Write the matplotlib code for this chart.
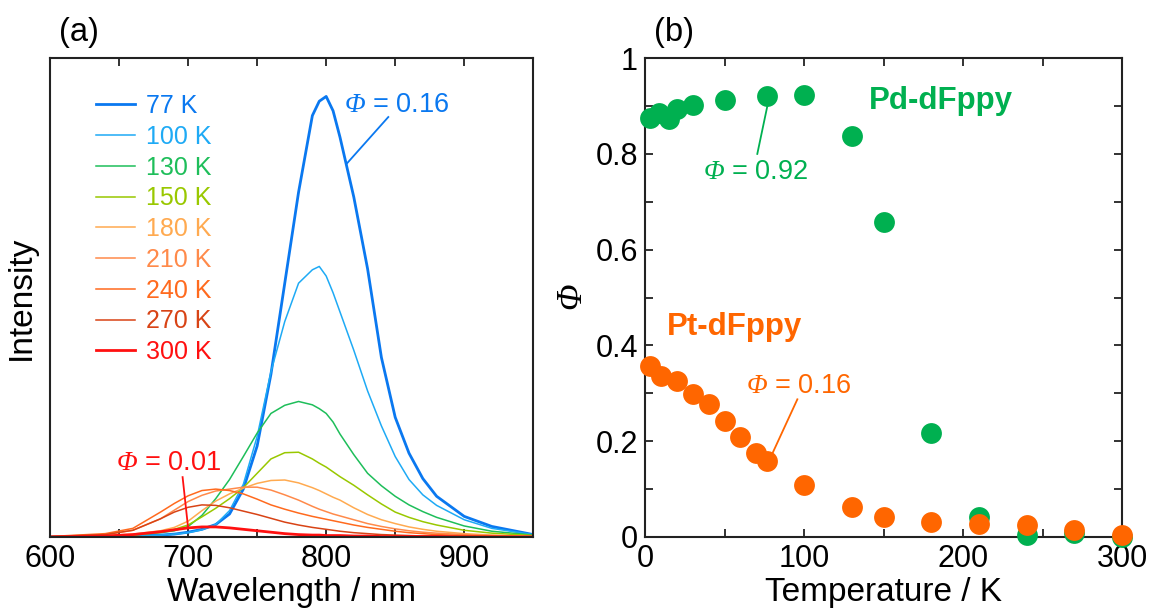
import numpy as np
import matplotlib
matplotlib.use('Agg')
import matplotlib.pyplot as plt
from matplotlib.ticker import MultipleLocator, FuncFormatter

plt.rcParams['font.family'] = ['Liberation Sans', 'DejaVu Sans']
plt.rcParams['mathtext.fontset'] = 'custom'
plt.rcParams['mathtext.rm'] = 'Liberation Serif:italic'
plt.rcParams['mathtext.it'] = 'Liberation Serif:italic'

# ---- (a) emission spectra, intensity (arb. units) ----
wavelength = [600, 640, 660, 680, 690, 700, 710, 720, 730, 740, 750, 760, 770, 780,
              790, 795, 800, 805, 810, 820, 830, 840, 850, 860, 870, 880, 900, 920, 950]
temps = ['77 K', '100 K', '130 K', '150 K', '180 K', '210 K', '240 K', '270 K', '300 K']
spec_77 = [0, 0.001, 0.002, 0.004, 0.006, 0.010, 0.016, 0.026, 0.048, 0.10, 0.19, 0.34, 0.53, 0.72,
           0.88, 0.91, 0.92, 0.89, 0.835, 0.71, 0.56, 0.375, 0.25, 0.175, 0.122, 0.085, 0.043, 0.022, 0.005]
spec_100 = [0, 0.001, 0.002, 0.004, 0.006, 0.009, 0.015, 0.026, 0.055, 0.11, 0.21, 0.345, 0.45, 0.53,
            0.558, 0.565, 0.545, 0.51, 0.47, 0.39, 0.305, 0.232, 0.168, 0.12, 0.088, 0.066, 0.036, 0.018, 0.005]
spec_130 = [0, 0.002, 0.004, 0.009, 0.013, 0.022, 0.045, 0.08, 0.12, 0.168, 0.217, 0.258, 0.275, 0.283,
            0.276, 0.268, 0.258, 0.24, 0.215, 0.172, 0.133, 0.107, 0.085, 0.067, 0.053, 0.041, 0.023, 0.012, 0.004]
spec_150 = [0, 0.002, 0.004, 0.01, 0.016, 0.025, 0.042, 0.06, 0.08, 0.103, 0.133, 0.163, 0.176, 0.177,
            0.163, 0.154, 0.146, 0.136, 0.126, 0.108, 0.088, 0.069, 0.052, 0.041, 0.032, 0.025, 0.014, 0.008, 0.003]
spec_180 = [0, 0.003, 0.006, 0.013, 0.02, 0.033, 0.055, 0.075, 0.09, 0.102, 0.112, 0.118, 0.119, 0.113,
            0.103, 0.097, 0.09, 0.083, 0.077, 0.061, 0.047, 0.036, 0.028, 0.021, 0.016, 0.012, 0.007, 0.004, 0.001]
spec_210 = [0, 0.005, 0.014, 0.038, 0.056, 0.074, 0.087, 0.096, 0.1, 0.104, 0.104, 0.098, 0.088, 0.077,
            0.064, 0.058, 0.053, 0.048, 0.044, 0.036, 0.028, 0.022, 0.017, 0.013, 0.01, 0.008, 0.005, 0.003, 0.001]
spec_240 = [0.001, 0.007, 0.018, 0.052, 0.07, 0.086, 0.097, 0.1, 0.097, 0.09, 0.079, 0.067, 0.058, 0.05,
            0.043, 0.04, 0.037, 0.034, 0.031, 0.025, 0.02, 0.016, 0.012, 0.009, 0.007, 0.005, 0.003, 0.002, 0.001]
spec_270 = [0.001, 0.005, 0.014, 0.038, 0.052, 0.062, 0.067, 0.066, 0.061, 0.054, 0.047, 0.039, 0.031, 0.025,
            0.02, 0.018, 0.016, 0.014, 0.012, 0.009, 0.007, 0.005, 0.004, 0.003, 0.002, 0.002, 0.001, 0.001, 0]
spec_300 = [0, 0.002, 0.005, 0.011, 0.015, 0.019, 0.021, 0.021, 0.019, 0.016, 0.013, 0.01, 0.007, 0.005,
            0.004, 0.004, 0.003, 0.003, 0.003, 0.002, 0.002, 0.001, 0.001, 0.001, 0.001, 0.001, 0, 0, 0]
spectra = [spec_77, spec_100, spec_130, spec_150, spec_180, spec_210, spec_240, spec_270, spec_300]
spec_colors = ['#0A78F0', '#1EAAF5', '#1EBE5A', '#99C800', '#FFAA50',
               '#FF8A4A', '#FF6A1E', '#D84315', '#FF1010']
spec_widths = [2.0, 1.1, 1.1, 1.1, 1.1, 1.1, 1.1, 1.1, 2.0]

# ---- (b) quantum yield vs temperature ----
T_pd = [3, 9, 15, 20, 30, 50, 77, 100, 130, 150, 180, 210, 240, 270, 300]
phi_pd = [0.876, 0.885, 0.872, 0.893, 0.903, 0.912, 0.920, 0.922, 0.838, 0.658, 0.217, 0.041, 0.005, 0.008, 0.0]
T_pt = [3, 10, 20, 30, 40, 50, 60, 70, 77, 100, 130, 150, 180, 210, 240, 270, 300]
phi_pt = [0.357, 0.336, 0.326, 0.298, 0.277, 0.242, 0.208, 0.176, 0.159, 0.108, 0.062, 0.041,
          0.031, 0.027, 0.024, 0.015, 0.004]
green = '#00B050'
orange = '#FF6600'

fig = plt.figure(figsize=(11.56, 6.10), dpi=100)
ax1 = fig.add_axes([0.0433, 0.1197, 0.418, 0.785])
ax2 = fig.add_axes([0.558, 0.1197, 0.4126, 0.785])

tick_fs = 22
label_fs = 24

def style_axes(ax):
    for sp in ax.spines.values():
        sp.set_linewidth(1.5)
        sp.set_color('#222222')
    ax.tick_params(which='both', direction='in', length=6, width=1.3, color='#222222',
                   labelsize=tick_fs, pad=5)

# panel (a)
for spec, lab, col, lw in zip(spectra, temps, spec_colors, spec_widths):
    ax1.plot(wavelength, spec, color=col, lw=lw, label=lab)
ax1.set_xlim(600, 950)
ax1.set_ylim(0, 1)
ax1.set_yticks([])
ax1.xaxis.set_major_locator(MultipleLocator(100))
ax1.xaxis.set_minor_locator(MultipleLocator(50))
style_axes(ax1)
ax1.tick_params(axis='x', which='both', top=True, bottom=True)
ax1.set_xlabel('Wavelength / nm', fontsize=label_fs)
ax1.set_ylabel('Intensity', fontsize=label_fs)
ax1.xaxis.set_label_coords(0.5, -0.083)
ax1.yaxis.set_label_coords(-0.027, 0.5)
ax1.legend(loc='upper left', bbox_to_anchor=(0.095, 0.925), frameon=False, fontsize=18,
           labelcolor='linecolor', handlelength=1.55, handletextpad=0.45,
           labelspacing=0.27, borderpad=0, borderaxespad=0)

ax1.text(813, 0.902, r'$\Phi$ = 0.16', color='#0A78F0', fontsize=19.5, va='center', ha='left')
ax1.plot([845, 815], [0.877, 0.78], color='#0A78F0', lw=1.3)
ax1.text(648, 0.154, r'$\Phi$ = 0.01', color='#FF1010', fontsize=19.5, va='center', ha='left')
ax1.plot([696, 700], [0.125, 0.019], color='#FF1010', lw=1.3)
fig.text(0.051, 0.947, '(a)', fontsize=23.5, ha='left', va='center')

# panel (b)
ax2.plot(T_pd, phi_pd, 'o', color=green, ms=15, mec='none', clip_on=False, zorder=3)
ax2.plot(T_pt, phi_pt, 'o', color=orange, ms=15, mec='none', clip_on=False, zorder=4)
ax2.set_xlim(0, 300)
ax2.set_ylim(0, 1)
ax2.xaxis.set_major_locator(MultipleLocator(100))
ax2.xaxis.set_minor_locator(MultipleLocator(50))
ax2.yaxis.set_major_locator(MultipleLocator(0.2))
ax2.yaxis.set_minor_locator(MultipleLocator(0.1))
ax2.yaxis.set_major_formatter(FuncFormatter(lambda v, p: '%d' % round(v) if abs(v - round(v)) < 1e-6 else '%.1f' % v))
style_axes(ax2)
ax2.tick_params(which='both', top=True, right=True)
ax2.set_xlabel('Temperature / K', fontsize=label_fs)
ax2.xaxis.set_label_coords(0.5, -0.083)
ax2.set_ylabel(r'$\Phi$', fontsize=25)
ax2.yaxis.set_label_coords(-0.117, 0.5)

ax2.text(140.5, 0.91, 'Pd-dFppy', color=green, fontsize=22.5, fontweight='bold', va='center')
ax2.text(13.6, 0.439, 'Pt-dFppy', color=orange, fontsize=22.5, fontweight='bold', va='center')
ax2.text(36.6, 0.763, r'$\Phi$ = 0.92', color=green, fontsize=19.5, va='center')
ax2.plot([70.6, 76.8], [0.80, 0.898], color=green, lw=1.3)
ax2.text(63.2, 0.315, r'$\Phi$ = 0.16', color=orange, fontsize=19.5, va='center')
ax2.plot([95.8, 79.9], [0.2875, 0.173], color=orange, lw=1.3)
fig.text(0.566, 0.947, '(b)', fontsize=23.5, ha='left', va='center')

fig.savefig('out.png', dpi=100)
